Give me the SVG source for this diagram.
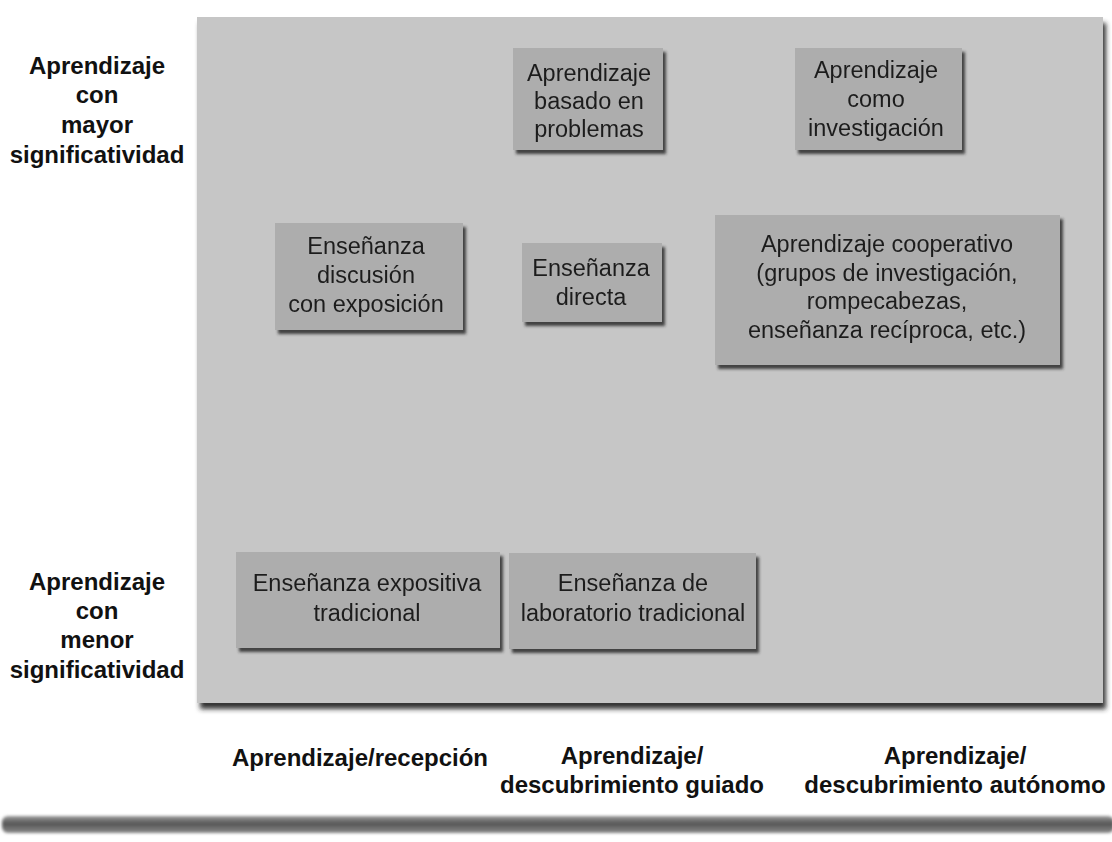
<svg xmlns="http://www.w3.org/2000/svg" width="1112" height="842" viewBox="0 0 1112 842">
  <defs>
    <filter id="panelShadow" x="-5%" y="-5%" width="115%" height="115%">
      <feGaussianBlur in="SourceAlpha" stdDeviation="2.5"/>
      <feOffset dx="3" dy="6" result="b"/>
      <feFlood flood-color="#2a2a2a" flood-opacity="0.95"/>
      <feComposite in2="b" operator="in" result="s"/>
      <feMerge><feMergeNode in="s"/><feMergeNode in="SourceGraphic"/></feMerge>
    </filter>
    <filter id="boxShadow" x="-10%" y="-10%" width="125%" height="130%">
      <feGaussianBlur in="SourceAlpha" stdDeviation="1.8"/>
      <feOffset dx="3" dy="4" result="b"/>
      <feFlood flood-color="#333333" flood-opacity="0.9"/>
      <feComposite in2="b" operator="in" result="s"/>
      <feMerge><feMergeNode in="s"/><feMergeNode in="SourceGraphic"/></feMerge>
    </filter>
    <filter id="barBlur" x="-2%" y="-50%" width="104%" height="200%">
      <feGaussianBlur stdDeviation="1.5"/>
    </filter>
    <linearGradient id="barGrad" x1="0" y1="0" x2="0" y2="1">
      <stop offset="0" stop-color="#9a9a9a"/>
      <stop offset="0.45" stop-color="#555555"/>
      <stop offset="1" stop-color="#8a8a8a"/>
    </linearGradient>
  </defs>
  <style>
    .box { fill: #adadad; }
    .bt { font-family: "Liberation Sans", Arial, sans-serif; font-size: 23.5px; fill: #1e1e1e; text-anchor: middle; }
    .lab { font-family: "Liberation Sans", Arial, sans-serif; font-size: 24px; font-weight: bold; fill: #111111; text-anchor: middle; }
  </style>

  <rect x="0" y="0" width="1112" height="842" fill="#ffffff"/>

  <g id="panel">
    <rect x="197" y="17" width="906" height="686" fill="#c6c6c6" filter="url(#panelShadow)"/>
  </g>

  <g id="connectors"/>

  <g id="node-basado-problemas" filter="url(#boxShadow)">
    <rect class="box" x="513" y="48" width="150" height="102"/>
    <text class="bt" x="589" y="81">Aprendizaje</text>
    <text class="bt" x="589" y="109">basado en</text>
    <text class="bt" x="589" y="137">problemas</text>
  </g>

  <g id="node-investigacion" filter="url(#boxShadow)">
    <rect class="box" x="795" y="48" width="167" height="102"/>
    <text class="bt" x="876" y="78">Aprendizaje</text>
    <text class="bt" x="876" y="107">como</text>
    <text class="bt" x="876" y="136">investigación</text>
  </g>

  <g id="node-discusion" filter="url(#boxShadow)">
    <rect class="box" x="275" y="223" width="188" height="107"/>
    <text class="bt" x="366" y="254">Enseñanza</text>
    <text class="bt" x="366" y="283">discusión</text>
    <text class="bt" x="366" y="312">con exposición</text>
  </g>

  <g id="node-directa" filter="url(#boxShadow)">
    <rect class="box" x="522" y="243" width="140" height="79"/>
    <text class="bt" x="591" y="276">Enseñanza</text>
    <text class="bt" x="591" y="305">directa</text>
  </g>

  <g id="node-cooperativo" filter="url(#boxShadow)">
    <rect class="box" x="715" y="215" width="345" height="150"/>
    <text class="bt" x="887" y="252">Aprendizaje cooperativo</text>
    <text class="bt" x="887" y="281">(grupos de investigación,</text>
    <text class="bt" x="887" y="309">rompecabezas,</text>
    <text class="bt" x="887" y="338">enseñanza recíproca, etc.)</text>
  </g>

  <g id="node-expositiva" filter="url(#boxShadow)">
    <rect class="box" x="236" y="552" width="264" height="96"/>
    <text class="bt" x="367" y="591">Enseñanza expositiva</text>
    <text class="bt" x="367" y="621">tradicional</text>
  </g>

  <g id="node-laboratorio" filter="url(#boxShadow)">
    <rect class="box" x="509" y="553" width="247" height="96"/>
    <text class="bt" x="633" y="591">Enseñanza de</text>
    <text class="bt" x="633" y="621">laboratorio tradicional</text>
  </g>

  <g id="label-mayor">
    <text class="lab" x="97" y="74">Aprendizaje</text>
    <text class="lab" x="97" y="103">con</text>
    <text class="lab" x="97" y="133">mayor</text>
    <text class="lab" x="97" y="163">significatividad</text>
  </g>

  <g id="label-menor">
    <text class="lab" x="97" y="590">Aprendizaje</text>
    <text class="lab" x="97" y="619">con</text>
    <text class="lab" x="97" y="648">menor</text>
    <text class="lab" x="97" y="678">significatividad</text>
  </g>

  <g id="label-recepcion">
    <text class="lab" x="360" y="766">Aprendizaje/recepción</text>
  </g>
  <g id="label-guiado">
    <text class="lab" x="632" y="764">Aprendizaje/</text>
    <text class="lab" x="632" y="793">descubrimiento guiado</text>
  </g>
  <g id="label-autonomo">
    <text class="lab" x="955" y="764">Aprendizaje/</text>
    <text class="lab" x="955" y="793">descubrimiento autónomo</text>
  </g>

  <g id="bottom-bar">
    <rect x="2" y="816" width="1112" height="17" rx="6" fill="url(#barGrad)" filter="url(#barBlur)"/>
  </g>
</svg>
